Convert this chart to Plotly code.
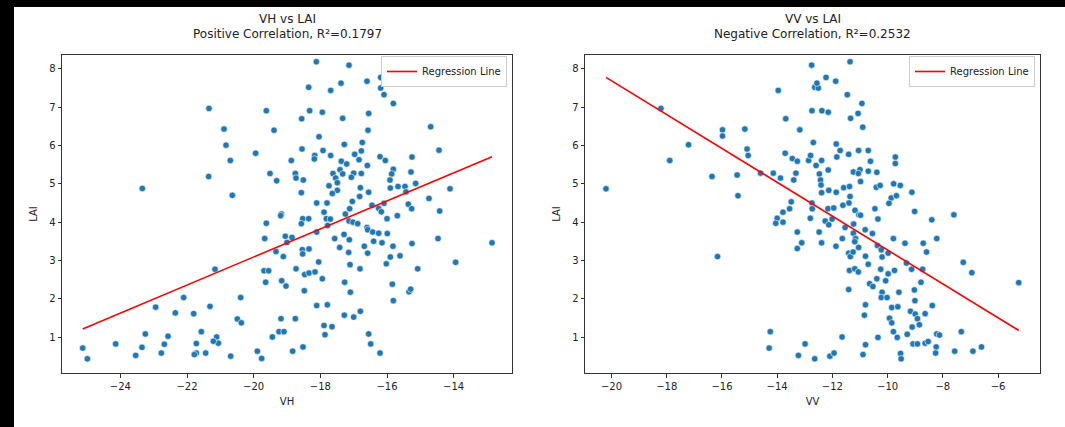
import plotly.graph_objects as go

# ---- VH backscatter (dB) vs LAI ----
vh = [-18.12, -17.14, -16.19, -18.35, -17.38, -16.60, -16.19, -16.09, -17.69, -15.81,
      -21.34, -19.62, -18.32, -17.94, -18.56, -17.33, -16.55, -14.69, -20.89, -19.39,
      -16.57, -18.04, -20.83, -17.28, -16.74, -14.44, -18.55, -19.94, -17.92, -16.77,
      -16.97, -18.17, -17.69, -16.21, -15.25, -20.70, -18.87, -18.18, -17.37, -17.21,
      -16.84, -16.05, -16.59, -21.35, -19.51, -18.75, -17.41, -17.62, -17.33, -17.00,
      -16.77, -15.81, -15.86, -15.28, -19.31, -18.73, -18.51, -17.07, -17.54, -17.49,
      -15.91, -15.14, -17.74, -16.80, -15.90, -15.67, -15.46, -23.34, -14.11, -17.49,
      -16.55, -18.57, -15.43, -17.64, -20.64, -16.82, -14.74, -18.11, -17.80, -17.04,
      -16.09, -15.36, -16.45, -16.25, -15.26, -17.12, -14.42, -17.89, -16.17, -19.17,
      -17.25, -19.19, -18.53, -18.35, -18.57, -17.82, -17.70, -17.78, -17.14, -17.02,
      -16.88, -16.60, -16.58, -16.43, -16.25, -15.99, -16.00, -15.69, -19.62, -18.11,
      -19.67, -19.05, -18.85, -19.00, -17.57, -17.29, -17.13, -16.40, -16.15, -14.47,
      -15.25, -12.85, -13.94, -15.08, -15.61, -15.90, -16.02, -15.82, -16.58, -16.68,
      -17.42, -17.15, -17.11, -16.81, -18.05, -18.34, -18.54, -18.53, -19.33, -19.11,
      -18.73, -19.69, -19.55, -18.47, -18.34, -18.16, -17.27, -17.10, -17.94, -19.16,
      -19.03, -19.64, -18.48, -15.84, -15.81, -15.34, -15.29, -20.39, -22.10, -18.11,
      -17.79, -17.28, -17.00, -16.80, -19.18, -18.75, -20.49, -20.37, -22.94, -22.35,
      -21.80, -21.31, -21.16, -17.89, -17.65, -17.86, -19.24, -19.09, -19.44, -16.55,
      -16.49, -16.21, -18.52, -18.83, -19.89, -19.76, -20.69, -21.57, -21.11, -21.06,
      -21.21, -21.72, -21.72, -21.78, -21.44, -23.25, -22.57, -23.35, -22.68, -22.77,
      -23.54, -24.14, -25.13, -24.99]
vh_lai = [8.19, 8.10, 7.78, 7.52, 7.63, 7.68, 7.50, 7.33, 7.44, 7.10,
          6.97, 6.91, 6.91, 6.87, 6.70, 6.71, 6.84, 6.49, 6.43, 6.40,
          6.40, 6.23, 6.01, 6.03, 6.08, 5.88, 5.91, 5.80, 5.87, 5.86,
          5.77, 5.74, 5.74, 5.71, 5.70, 5.61, 5.61, 5.65, 5.59, 5.52,
          5.63, 5.61, 5.48, 5.19, 5.27, 5.27, 5.37, 5.27, 5.26, 5.28,
          5.27, 5.38, 5.26, 5.31, 5.08, 5.15, 5.10, 5.17, 5.15, 5.03,
          5.10, 5.01, 4.95, 4.90, 4.89, 4.93, 4.93, 4.88, 4.87, 4.83,
          4.78, 4.77, 4.79, 4.75, 4.70, 4.67, 4.62, 4.50, 4.50, 4.54,
          4.49, 4.47, 4.44, 4.36, 4.35, 4.35, 4.29, 4.26, 4.27, 4.21,
          4.21, 4.17, 4.09, 4.09, 3.96, 4.09, 4.08, 3.91, 4.03, 4.00,
          3.96, 3.86, 3.80, 3.74, 3.71, 3.70, 4.09, 4.17, 3.97, 3.74,
          3.57, 3.63, 3.60, 3.47, 3.57, 3.68, 3.54, 3.50, 3.46, 3.57,
          3.44, 3.46, 2.95, 2.78, 3.12, 3.09, 2.91, 3.37, 3.19, 3.37,
          3.34, 3.21, 2.89, 2.78, 2.96, 3.30, 3.28, 3.17, 3.23, 3.10,
          2.78, 2.73, 2.73, 2.63, 2.67, 2.70, 2.43, 2.17, 2.52, 2.47,
          2.33, 2.43, 2.21, 2.38, 1.95, 2.18, 2.25, 2.03, 2.03, 1.82,
          1.84, 1.57, 1.52, 1.67, 1.48, 1.48, 1.47, 1.37, 1.78, 1.63,
          1.61, 1.80, 2.77, 1.30, 1.27, 1.06, 1.14, 1.14, 1.00, 1.08,
          0.82, 0.58, 0.74, 0.63, 0.63, 0.44, 0.50, 1.14, 1.00, 0.84,
          0.89, 0.83, 0.58, 0.54, 0.58, 1.08, 1.02, 0.73, 0.81, 0.58,
          0.52, 0.82, 0.71, 0.43]

# ---- VV backscatter (dB) vs LAI ----
vv = [-20.20, -18.21, -17.89, -17.21, -16.36, -15.98, -15.98, -15.45, -15.42, -15.17,
      -15.09, -15.05, -14.60, -14.14, -13.88, -13.96, -13.69, -13.71, -13.45, -13.27,
      -13.32, -13.40, -13.18, -12.75, -12.64, -12.51, -12.56, -12.23, -11.88, -11.36,
      -11.46, -10.93, -11.07, -11.34, -12.74, -12.38, -12.15, -10.90, -12.69, -11.86,
      -11.72, -11.84, -11.41, -11.05, -10.70, -10.62, -9.72, -9.72, -12.86, -12.79,
      -12.59, -12.39, -12.47, -12.43, -12.41, -12.39, -12.15, -12.13, -11.86, -11.59,
      -11.38, -11.24, -11.00, -11.06, -10.98, -10.70, -10.39, -10.41, -10.27, -9.78,
      -9.54, -9.12, -9.87, -9.95, -9.68, -11.36, -11.40, -11.62, -12.74, -12.73,
      -13.49, -13.55, -13.79, -12.16, -11.95, -10.46, -9.02, -7.60, -11.18, -11.04,
      -14.00, -14.05, -13.79, -13.27, -13.27, -13.11, -12.80, -12.48, -12.39, -12.26,
      -12.13, -12.01, -11.64, -11.54, -11.87, -11.41, -11.35, -11.25, -11.41, -11.38,
      -11.19, -11.06, -11.24, -11.16, -11.19, -11.23, -10.98, -11.05, -10.81, -10.55,
      -10.80, -10.70, -10.35, -10.37, -10.23, -10.20, -9.79, -9.98, -10.25, -9.98,
      -9.75, -10.39, -10.65, -10.53, -10.07, -10.20, -10.23, -10.02, -9.59, -9.37,
      -9.32, -9.13, -9.03, -9.01, -8.79, -8.73, -8.71, -8.59, -8.40, -8.22,
      -7.26, -6.95, -5.25, -10.80, -10.84, -9.85, -9.63, -9.17, -9.00, -8.64,
      -8.92, -8.85, -9.11, -9.93, -9.85, -9.79, -9.29, -9.65, -10.35, -10.80,
      -10.89, -9.53, -9.51, -9.08, -8.92, -8.64, -8.53, -8.22, -8.12, -8.38,
      -8.24, -8.26, -7.33, -7.57, -6.91, -6.60, -14.25, -14.29, -12.99, -13.23,
      -12.64, -12.09, -11.94, -11.65, -16.16]
vv_lai = [4.87, 6.97, 5.61, 6.02, 5.19, 6.41, 6.25, 5.23, 4.69, 6.43,
          5.91, 5.74, 5.28, 5.28, 5.15, 7.44, 6.70, 5.80, 5.66, 5.59,
          5.28, 5.10, 6.41, 8.10, 7.52, 7.50, 7.63, 7.78, 7.68, 8.19,
          7.33, 7.10, 6.84, 6.71, 6.91, 6.91, 6.87, 6.48, 6.08, 6.04,
          5.87, 5.70, 5.77, 5.87, 5.87, 5.59, 5.70, 5.53, 5.61, 5.74,
          5.48, 5.61, 5.26, 5.10, 4.97, 4.77, 5.36, 4.83, 4.78, 4.90,
          4.93, 5.31, 5.37, 5.27, 5.06, 5.33, 5.30, 4.91, 4.96, 5.00,
          4.96, 4.78, 4.63, 4.49, 4.69, 4.67, 4.50, 4.44, 4.50, 4.35,
          4.53, 4.35, 4.26, 4.35, 4.37, 4.35, 4.28, 4.19, 4.31, 4.19,
          4.10, 3.97, 4.00, 3.74, 3.31, 3.46, 4.10, 3.74, 3.46, 4.03,
          3.93, 4.08, 3.57, 3.86, 3.37, 3.19, 3.10, 3.22, 2.24, 2.74,
          2.78, 2.70, 3.71, 3.57, 3.49, 3.95, 4.18, 3.34, 3.80, 3.70,
          3.11, 2.90, 4.08, 3.39, 3.28, 3.09, 3.57, 3.19, 2.77, 2.65,
          2.74, 2.52, 2.39, 2.32, 2.47, 2.17, 2.03, 2.03, 2.17, 3.45,
          2.93, 2.77, 2.23, 1.95, 2.43, 2.77, 3.45, 3.22, 4.06, 3.57,
          2.95, 2.68, 2.42, 1.84, 1.57, 1.77, 1.79, 1.67, 1.60, 1.61,
          1.48, 1.32, 1.26, 1.49, 1.37, 1.14, 1.07, 0.99, 0.99, 0.80,
          0.54, 0.57, 0.43, 0.82, 0.82, 0.84, 0.88, 1.08, 1.05, 1.82,
          0.74, 0.58, 1.14, 0.63, 0.63, 0.74, 1.14, 0.71, 0.82, 0.52,
          0.43, 0.50, 0.58, 1.00, 3.10]

# fitted regression coefficients (LAI = slope * dB + intercept)
vh_fit = {"slope": 0.3665, "intercept": 10.42, "r2": 0.1797}
vv_fit = {"slope": -0.4421, "intercept": -1.15, "r2": 0.2532}

W, H = 1065, 427
POINT_COLOR = "#1f77b4"
AXIS_COLOR = "#333333"
FONT = "DejaVu Sans"

fig = go.Figure()


def add_panel(x, y, fit, xaxis, yaxis, legend):
    fig.add_trace(go.Scatter(
        x=x, y=y, mode="markers", showlegend=False,
        marker=dict(color=POINT_COLOR, size=6.5, line=dict(color="white", width=0.6)),
        xaxis=xaxis, yaxis=yaxis,
    ))
    x0, x1 = min(x), max(x)
    fig.add_trace(go.Scatter(
        x=[x0, x1],
        y=[fit["slope"] * x0 + fit["intercept"], fit["slope"] * x1 + fit["intercept"]],
        mode="lines", name="Regression Line", line=dict(color="red", width=1.6),
        xaxis=xaxis, yaxis=yaxis, legend=legend,
    ))


add_panel(vh, vh_lai, vh_fit, "x", "y", "legend")
add_panel(vv, vv_lai, vv_fit, "x2", "y2", "legend2")


def px_x(p):
    return p / W


def px_y(p):
    return (H - p) / H


axis_common = dict(
    showgrid=False, zeroline=False, showline=True, mirror=True,
    linecolor=AXIS_COLOR, linewidth=1, ticks="outside", ticklen=3.5,
    tickcolor=AXIS_COLOR, tickfont=dict(size=10, color="#222", family=FONT),
    title_font=dict(size=10, color="#222", family=FONT),
)

ydom = [px_y(373), px_y(55)]
fig.update_layout(
    width=W, height=H,
    margin=dict(l=0, r=0, t=0, b=0),
    paper_bgcolor="white", plot_bgcolor="white",
    font=dict(family=FONT, color="#222"),
    xaxis=dict(domain=[px_x(62), px_x(512)], range=[-25.75, -12.25],
               tickvals=[-24, -22, -20, -18, -16, -14], anchor="y",
               title=dict(text="VH", standoff=7), **axis_common),
    yaxis=dict(domain=ydom, range=[0.06, 8.365], tickvals=list(range(1, 9)), anchor="x",
               title=dict(text="LAI", standoff=9), **axis_common),
    xaxis2=dict(domain=[px_x(585), px_x(1040)], range=[-20.96, -4.48],
                tickvals=[-20, -18, -16, -14, -12, -10, -8, -6], anchor="y2",
                title=dict(text="VV", standoff=7), **axis_common),
    yaxis2=dict(domain=ydom, range=[0.06, 8.365], tickvals=list(range(1, 9)), anchor="x2",
                title=dict(text="LAI", standoff=9), **axis_common),
    legend=dict(x=px_x(507), y=px_y(56), xanchor="right", yanchor="top",
                bgcolor="white", bordercolor="#cccccc", borderwidth=1,
                font=dict(size=10, family=FONT, color="#222")),
    legend2=dict(x=px_x(1035), y=px_y(56), xanchor="right", yanchor="top",
                 bgcolor="white", bordercolor="#cccccc", borderwidth=1,
                 font=dict(size=10, family=FONT, color="#222")),
    showlegend=True,
)

# two-line subplot titles
titles = [
    ((62 + 512) / 2, "VH vs LAI", f"Positive Correlation, R²={vh_fit['r2']:.4f}"),
    ((585 + 1040) / 2, "VV vs LAI", f"Negative Correlation, R²={vv_fit['r2']:.4f}"),
]
for cx, line1, line2 in titles:
    fig.add_annotation(x=px_x(cx), y=px_y(19), xref="paper", yref="paper",
                       text=line1, showarrow=False, xanchor="center", yanchor="middle",
                       font=dict(size=12, family=FONT, color="#222"))
    fig.add_annotation(x=px_x(cx), y=px_y(34), xref="paper", yref="paper",
                       text=line2, showarrow=False, xanchor="center", yanchor="middle",
                       font=dict(size=12, family=FONT, color="#222"))

# dark frame bands along the top and left edges
fig.add_shape(type="rect", xref="paper", yref="paper", x0=0, x1=px_x(14), y0=0, y1=1,
              fillcolor="black", line=dict(width=0), layer="above")
fig.add_shape(type="rect", xref="paper", yref="paper", x0=0, x1=1, y0=px_y(7), y1=1,
              fillcolor="black", line=dict(width=0), layer="above")

fig.write_html("out.html")
